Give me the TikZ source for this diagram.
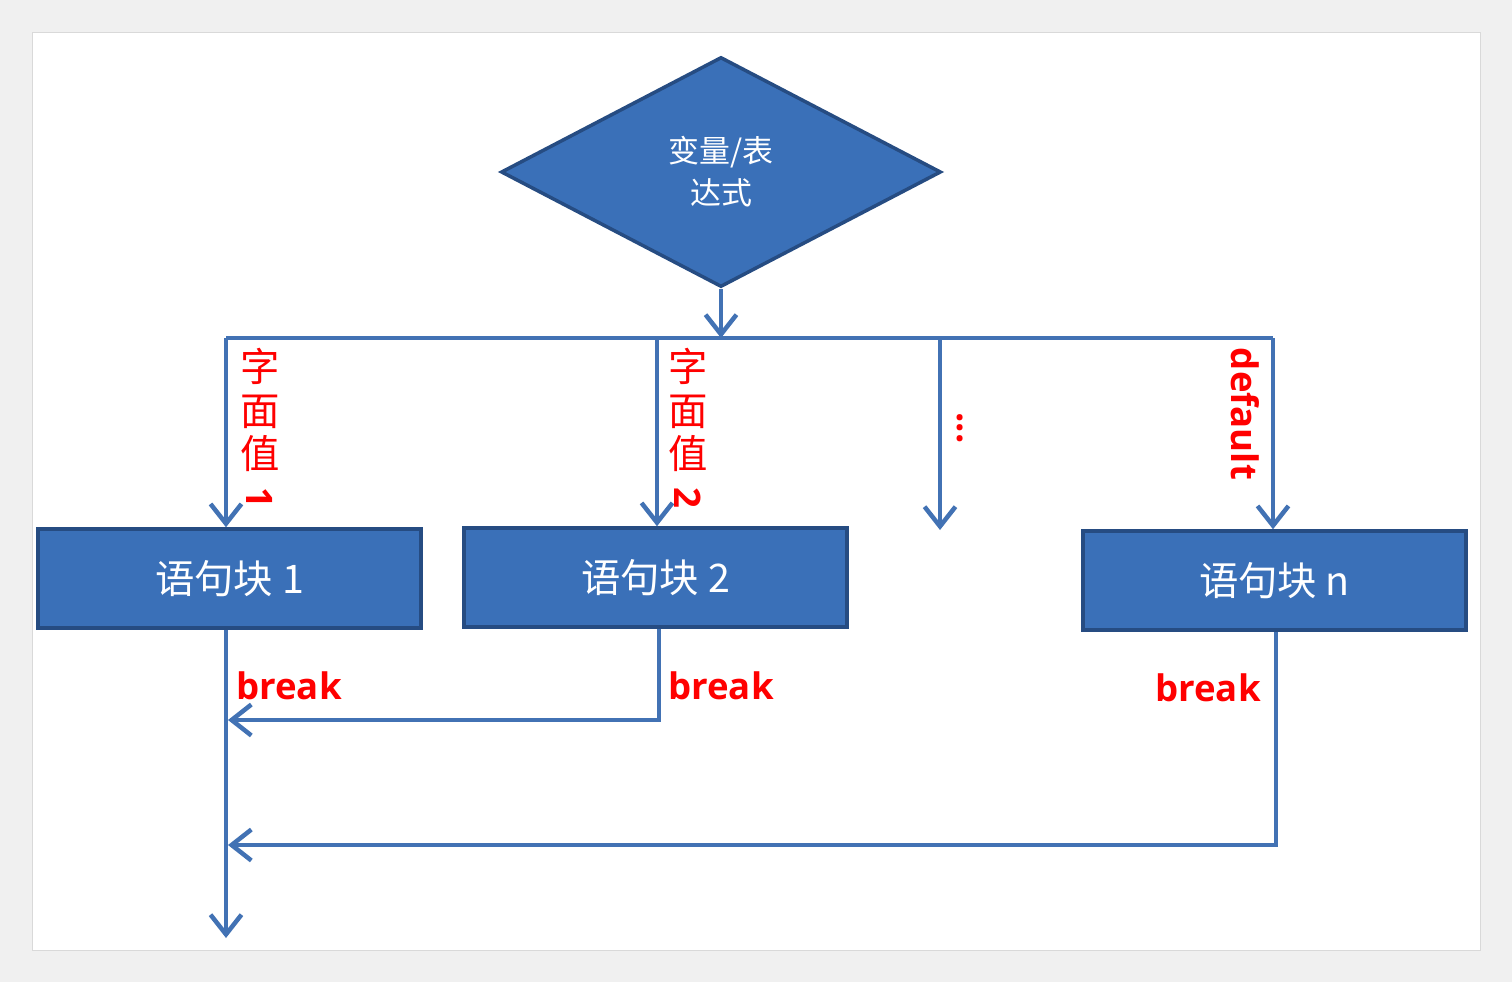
\documentclass[tikz,border=0pt]{standalone}
\usepackage{fontspec}
\setmainfont{Open Sans}
\newfontfamily\cjk{Noto Sans CJK SC}
\usetikzlibrary{arrows.meta,shapes.geometric}
\definecolor{boxblue}{RGB}{58,112,184}
\definecolor{boxline}{RGB}{38,76,130}
\definecolor{flowline}{RGB}{66,114,180}
\tikzset{
  block/.style={draw=boxline, line width=2.5pt, fill=boxblue, inner sep=0pt},
  flow/.style={draw=flowline, line width=3.2pt, -{Straight Barb[length=14pt,width=22pt,line width=3.2pt]}},
  plain/.style={draw=flowline, line width=3.2pt},
  label/.style={text=red, font=\bfseries\fontsize{26}{28}\selectfont},
  caselab/.style={text=red, font=\cjk\fontsize{28}{31}\selectfont, align=center, inner sep=0pt},
  blocktext/.style={text=white, font=\cjk\fontsize{28}{30}\selectfont}
}
\begin{document}
\begin{tikzpicture}[x=0.025cm, y=-0.025cm]
		\useasboundingbox (0,0) rectangle (1512,982);
		\fill[gray!12] (0,0) rectangle (1512,982);
		\fill[white, draw=gray!30] (32,32) rectangle (1480,950);

		%% decision
		\node[block, diamond, minimum width=440*0.025cm, minimum height=230*0.025cm, aspect=1.9] (expr) at (721,172){};
		\node[text=white, font=\cjk\fontsize{22}{30}\selectfont, align=center] at (721,172){变量/表\\达式};

		%% case blocks
		\node[block, minimum width=383*0.025cm, minimum height=99*0.025cm] (blk1) at (229.5,578.5){};
		\node[block, minimum width=383*0.025cm, minimum height=99*0.025cm] (blk2) at (655.5,577.5){};
		\node[block, minimum width=383*0.025cm, minimum height=99*0.025cm] (blkn) at (1274.5,580.5){};
		\node[blocktext] at (blk1){语句块 1};
		\node[blocktext] at (blk2){语句块 2};
		\node[blocktext] at (blkn){语句块 n};

		\coordinate (split) at (721,338);
		\coordinate (c1) at (226,338);
		\coordinate (c2) at (657,338);
		\coordinate (c3) at (940,338);
		\coordinate (cn) at (1273,338);
		\coordinate (dots) at (940,530);

		\draw[flow] (expr.south) -- (split);
		\draw[plain] (c1) -- (cn);
		\draw[flow] (c1) -- (c1 |- blk1.north);
		\draw[flow] (c2) -- (c2 |- blk2.north);
		\draw[flow] (c3) -- (dots);
		\draw[flow] (cn) -- (cn |- blkn.north);

		%% case labels
		\node[caselab, anchor=north] at (260,348){字\\面\\值};
		\node[label, rotate=-90] at (260,498){1};
		\node[caselab, anchor=north] at (688,348){字\\面\\值};
		\node[label, rotate=-90] at (688,498){2};
		\node[label, rotate=-90] at (960,428){...};
		\node[label, rotate=-90] at (1245,414){default};

		%% breaks
		\coordinate (out) at (226,938);
		\coordinate (j2) at (659,720);
		\coordinate (jn) at (1276,845);
		\draw[flow] (blk1.south -| out) -- (out);
		\draw[flow] (blk2.south -| j2) -- (j2) -- (228,720);
		\draw[flow] (blkn.south -| jn) -- (jn) -- (228,845);

		\node[label] at (289,686){break};
		\node[label] at (721,686){break};
		\node[label] at (1208,688){break};
\end{tikzpicture}
\end{document}
